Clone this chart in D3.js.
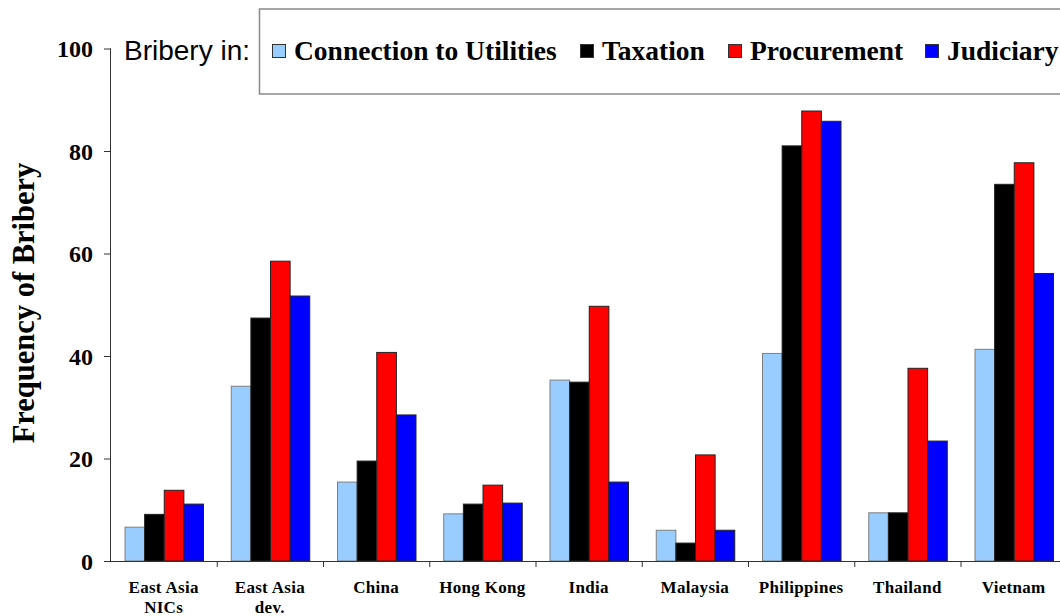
<!DOCTYPE html>
<html>
<head>
<meta charset="utf-8">
<script src="https://cdn.jsdelivr.net/npm/d3@7"></script>
<style>
html,body{margin:0;padding:0;background:#fff;}
svg{display:block;}
</style>
</head>
<body>
<svg id="chart" width="1060" height="616"></svg>
<script>
const categories = [["East Asia","NICs"],["East Asia","dev."],["China"],["Hong Kong"],["India"],["Malaysia"],["Philippines"],["Thailand"],["Vietnam"]];
const series = ["Connection to Utilities","Taxation","Procurement","Judiciary"];
const utilities = [6.6, 34.1, 15.4, 9.2, 35.3, 6.0, 40.5, 9.4, 41.3];
const taxation = [9.1, 47.4, 19.5, 11.1, 34.9, 3.5, 81.0, 9.4, 73.5];
const procurement = [13.8, 58.5, 40.7, 14.8, 49.7, 20.7, 87.8, 37.6, 77.7];
const judiciary = [11.1, 51.7, 28.5, 11.3, 15.4, 6.0, 85.8, 23.4, 56.1];
const yTicks = [0, 20, 40, 60, 80, 100];
const colors = ["#99ccff", "#000000", "#ff0000", "#0000ff"];
const strokes = ["#7f7f7f", "#222222", "#222222", "#222222"];

const values = [utilities, taxation, procurement, judiciary];
const catKeys = categories.map(c => c.join(" "));

const svg = d3.select("#chart");
const serif = "'Liberation Serif','Times New Roman',serif";

const x0 = d3.scaleBand().domain(catKeys).range([111, 1067.25]).padding(0);
const x1 = d3.scaleBand().domain(series).range([14, 92.5]).padding(0);
const y = d3.scaleLinear().domain([0, 100]).range([561, 48.5]);

// bars
const groups = svg.append("g").selectAll("g")
  .data(catKeys).join("g")
  .attr("transform", d => `translate(${x0(d)},0)`);

groups.selectAll("rect")
  .data((d, i) => series.map((s, j) => ({s, j, v: values[j][i]})))
  .join("rect")
  .attr("x", d => x1(d.s))
  .attr("y", d => y(d.v))
  .attr("width", x1.bandwidth())
  .attr("height", d => y(0) - y(d.v))
  .attr("fill", d => colors[d.j])
  .attr("stroke", d => strokes[d.j])
  .attr("stroke-width", 1);

// y axis
const yAxis = d3.axisLeft(y).tickValues(yTicks).tickSize(7).tickPadding(11).tickFormat(d3.format("d"));
const yg = svg.append("g").attr("transform", "translate(111,0)").call(yAxis);
yg.select(".domain").attr("stroke", "#333").attr("d", `M-0.5,${y(100)}V${y(0)}`);
yg.selectAll(".tick line").attr("stroke", "#333");
yg.selectAll(".tick text")
  .attr("font-family", serif).attr("font-weight", "bold").attr("font-size", 24).attr("fill", "#000")
  .attr("dy", "0.34em");

// x axis
const boundaries = catKeys.map(k => x0(k)).concat([x0(catKeys[catKeys.length-1]) + x0.bandwidth()]);
const xg = svg.append("g");
xg.append("line").attr("x1", 110.5).attr("x2", 1060).attr("y1", y(0)+0.5).attr("y2", y(0)+0.5).attr("stroke", "#333");
xg.selectAll("line.tk").data(boundaries.slice(1)).join("line").attr("class","tk")
  .attr("x1", d => d).attr("x2", d => d).attr("y1", y(0)).attr("y2", y(0)+6).attr("stroke", "#333");
xg.selectAll("text").data(categories).join("text")
  .attr("x", (d, i) => x0(catKeys[i]) + x0.bandwidth()/2 - 0.5)
  .attr("y", 593)
  .attr("text-anchor", "middle")
  .attr("font-family", serif).attr("font-weight", "bold").attr("font-size", 17)
  .attr("letter-spacing", 0.3)
  .each(function(d){
    const t = d3.select(this);
    d.forEach((line, k) => t.append("tspan").attr("x", t.attr("x")).attr("dy", k === 0 ? 0 : 20).text(line));
  });

// y title
svg.append("text")
  .attr("transform", "translate(34,303) rotate(-90)")
  .attr("text-anchor", "middle")
  .attr("font-family", serif).attr("font-weight", "bold").attr("font-size", 30.5)
  .text("Frequency of Bribery");

// "Bribery in:" label
svg.append("text").attr("x", 124).attr("y", 60)
  .attr("font-family", "'Liberation Sans',Arial,sans-serif").attr("font-size", 28)
  .text("Bribery in:");

// legend box
svg.append("rect").attr("x", 259.5).attr("y", 9).attr("width", 830).attr("height", 85)
  .attr("fill", "#fff").attr("stroke", "#888").attr("stroke-width", 1.5);

const legendX = [272, 580, 728, 925];
const lg = svg.append("g").selectAll("g").data(series).join("g")
  .attr("transform", (d, i) => `translate(${legendX[i]},0)`);
lg.append("rect").attr("x", 0.5).attr("y", 44.5).attr("width", 13).attr("height", 13)
  .attr("fill", (d, i) => colors[i]).attr("stroke", "#333");
lg.append("text").attr("x", 22).attr("y", 60)
  .attr("font-family", serif).attr("font-weight", "bold").attr("font-size", 27.5)
  .text(d => d);
</script>
</body>
</html>
